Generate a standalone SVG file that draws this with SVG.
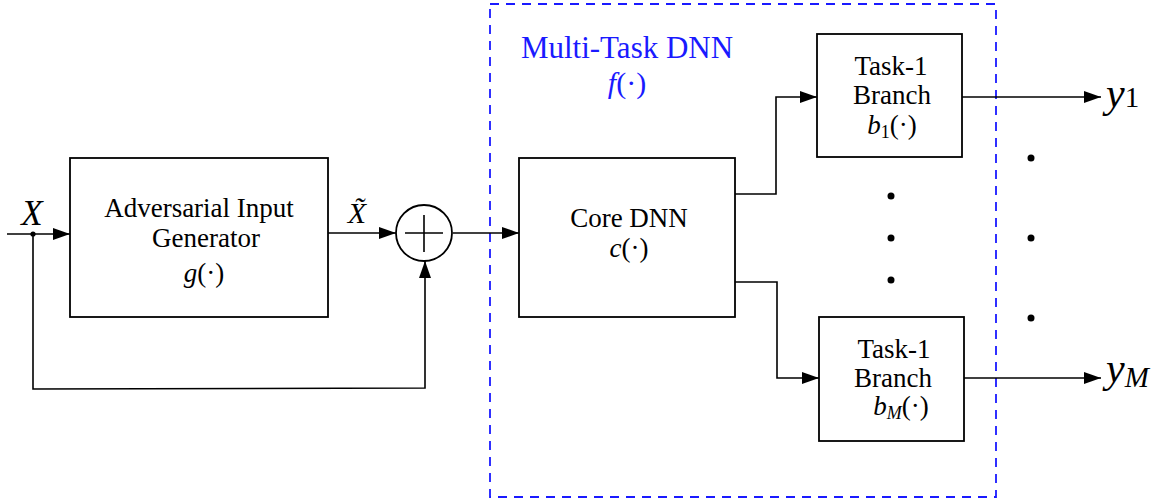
<svg xmlns="http://www.w3.org/2000/svg" width="1168" height="503" viewBox="0 0 1168 503" font-family="'Liberation Serif', 'DejaVu Serif', serif">
<defs>
<marker id="arr" markerUnits="userSpaceOnUse" markerWidth="17" markerHeight="12" refX="17" refY="6" orient="auto">
<path d="M0,0 L17,6 L0,12 z" fill="#000"/>
</marker>
</defs>
<style>
.box{fill:#fff;stroke:#000;stroke-width:1.8}
.ln{fill:none;stroke:#000;stroke-width:1.6}
.t{font-size:27px;fill:#000;text-anchor:middle}
.m{font-style:italic;fill:#000}
.r{font-style:normal}
.blue{fill:#1a1aff}
.dot{fill:#000}
</style>
<rect width="1168" height="503" fill="#fff"/>
<g id="multitask">
<rect x="490" y="4" width="506" height="493" fill="none" stroke="#1a1aff" stroke-width="1.8" stroke-dasharray="9 7"/>
<text class="t blue" x="627" y="58" style="font-size:31px">Multi-Task DNN</text>
<text class="t blue" x="627" y="93" style="font-size:30px"><tspan font-style="italic">f</tspan>(·)</text>
</g>
<g id="connectors">
<path class="ln" d="M7,234 H70" marker-end="url(#arr)"/>
<circle class="dot" cx="33" cy="234" r="2.6"/>
<path class="ln" d="M33,234 V389 L425,388 V261" marker-end="url(#arr)"/>
<path class="ln" d="M328,233 H396" marker-end="url(#arr)"/>
<path class="ln" d="M453,233 H519" marker-end="url(#arr)"/>
<path class="ln" d="M735,194 H776 V97 H817" marker-end="url(#arr)"/>
<path class="ln" d="M735,282 H777 V378 H819" marker-end="url(#arr)"/>
<path class="ln" d="M962,97 H1101" marker-end="url(#arr)"/>
<path class="ln" d="M964,378 H1101" marker-end="url(#arr)"/>
</g>
<g id="gen">
<rect class="box" x="70" y="158" width="258" height="159"/>
<text class="t" x="199" y="217">Adversarial Input</text>
<text class="t" x="206" y="247">Generator</text>
<text class="t" x="204" y="282"><tspan class="m">g</tspan>(·)</text>
</g>
<g id="sum">
<circle cx="424" cy="233" r="28" fill="#fff" stroke="#000" stroke-width="1.8"/>
<path class="ln" d="M405,233 H443 M424,215 V252"/>
</g>
<g id="core">
<rect class="box" x="519" y="158" width="216" height="159"/>
<text class="t" x="629" y="227">Core DNN</text>
<text class="t" x="629" y="257"><tspan class="m">c</tspan>(·)</text>
</g>
<g id="branch1">
<rect class="box" x="817" y="34" width="145" height="123"/>
<text class="t" x="891" y="75">Task-1</text>
<text class="t" x="892" y="104">Branch</text>
<text class="t" x="892" y="134"><tspan class="m">b</tspan><tspan font-size="18" dy="4">1</tspan><tspan dy="-4">(·)</tspan></text>
</g>
<g id="branchM">
<rect class="box" x="819" y="317" width="145" height="124"/>
<text class="t" x="894" y="358">Task-1</text>
<text class="t" x="893" y="387">Branch</text>
<text class="t" x="901" y="415"><tspan class="m">b</tspan><tspan class="m" font-size="18" dy="4">M</tspan><tspan dy="-4">(·)</tspan></text>
</g>
<g id="labels">
<text class="m" x="32" y="225" font-size="35" text-anchor="middle">X</text>
<text class="m" x="357" y="223" font-size="30" text-anchor="middle">X̃</text>
<text class="m" x="1106" y="107" font-size="42">y<tspan class="r" font-size="29">1</tspan></text>
<text class="m" x="1106" y="382" font-size="42">y<tspan font-size="29" dy="5">M</tspan></text>
</g>
<g id="dots">
<circle class="dot" cx="891" cy="196" r="3.5"/>
<circle class="dot" cx="891" cy="238" r="3.5"/>
<circle class="dot" cx="891" cy="280" r="3.5"/>
<circle class="dot" cx="1031" cy="158" r="3.5"/>
<circle class="dot" cx="1031" cy="238" r="3.5"/>
<circle class="dot" cx="1031" cy="318" r="3.5"/>
</g>
</svg>
